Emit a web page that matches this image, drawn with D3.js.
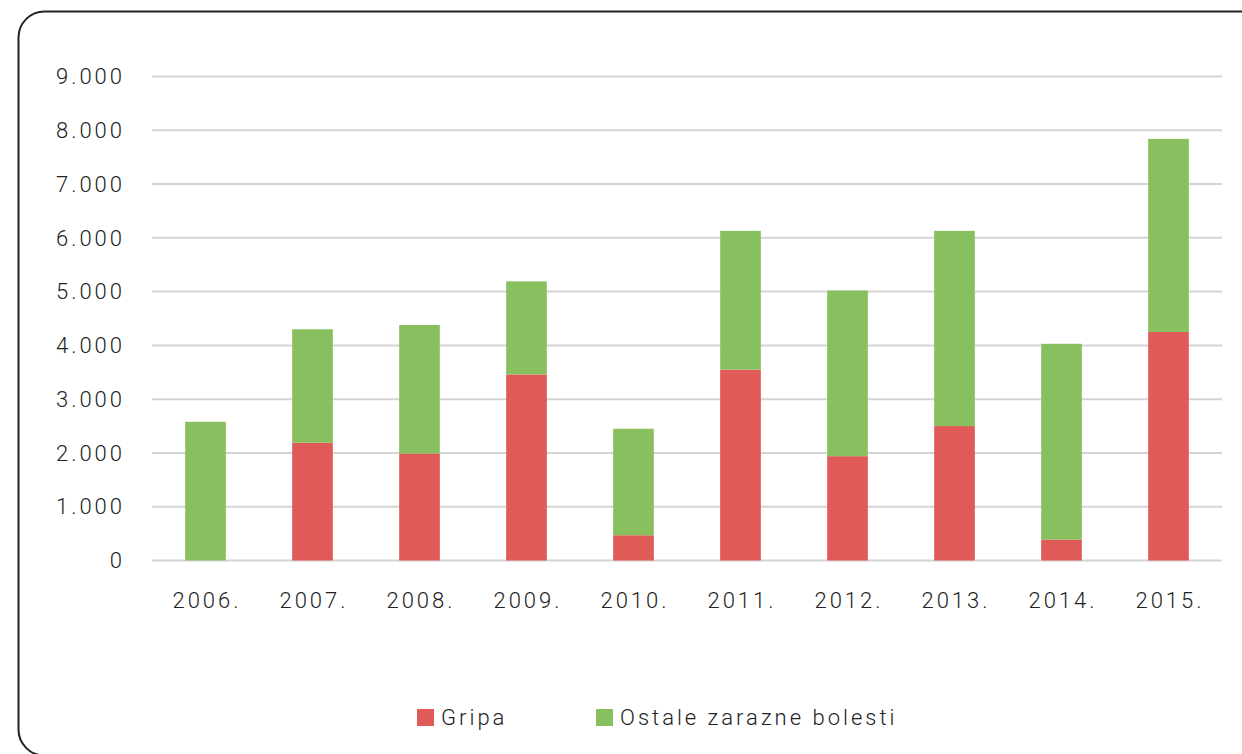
<!DOCTYPE html>
<html>
<head>
<meta charset="utf-8">
<script src="https://cdn.jsdelivr.net/npm/d3@7"></script>
<style>
  body { margin: 0; background: #fff; }
  svg text { font-family: Roboto, "DejaVu Sans", sans-serif; font-weight: 300; fill: #222; }
</style>
</head>
<body>
<div id="app"></div>
<script>
const WIDTH = 1242, HEIGHT = 754;

const years = ['2006.', '2007.', '2008.', '2009.', '2010.', '2011.', '2012.', '2013.', '2014.', '2015.'];
const gripa = [0, 2190, 1990, 3460, 470, 3550, 1940, 2500, 390, 4250];
const ostale = [2580, 2110, 2390, 1730, 1980, 2580, 3080, 3630, 3640, 3590];
const yTicks = [0, 1000, 2000, 3000, 4000, 5000, 6000, 7000, 8000, 9000];
const seriesNames = ['Gripa', 'Ostale zarazne bolesti'];
const colors = ['#e05a57', '#88c05f'];

const svg = d3.select('#app')
  .append('svg')
    .attr('width', WIDTH)
    .attr('height', HEIGHT);

// rounded frame round the whole chart
svg.append('rect')
  .attr('x', 18.5).attr('y', 11.5)
  .attr('width', 1260).attr('height', 744)
  .attr('rx', 26)
  .attr('fill', 'none')
  .attr('stroke', '#222')
  .attr('stroke-width', 2);

const x = d3.scaleBand()
  .domain(years)
  .range([152, 1222])
  .paddingInner(0.62)
  .paddingOuter(0.31);

const y = d3.scaleLinear()
  .domain([0, 9000])
  .range([560.5, 76.5]);

const fmt = v => v === 0 ? '0' : d3.format(',')(v).replace(/,/g, '.');

// gridlines
svg.append('g')
  .selectAll('line')
  .data(yTicks)
  .enter()
    .append('line')
    .attr('x1', 152).attr('x2', 1222)
    .attr('y1', d => y(d)).attr('y2', d => y(d))
    .attr('stroke', '#d4d4d4')
    .attr('stroke-width', 2);

// y labels
svg.append('g')
  .selectAll('text')
  .data(yTicks)
  .enter()
    .append('text')
    .attr('x', 125)
    .attr('y', d => y(d))
    .attr('dy', '0.35em')
    .attr('text-anchor', 'end')
    .style('font-size', '22px')
    .style('letter-spacing', '3px')
    .text(fmt);

// stacked bars
const rows = years.map((yr, i) => ({ year: yr, Gripa: gripa[i], Ostale: ostale[i] }));
const stack = d3.stack().keys(['Gripa', 'Ostale'])(rows);

svg.append('g')
  .selectAll('g')
  .data(stack)
  .enter()
    .append('g')
    .attr('fill', (d, i) => colors[i])
    .selectAll('rect')
    .data(d => d)
    .enter()
      .append('rect')
      .attr('x', d => x(d.data.year))
      .attr('width', x.bandwidth())
      .attr('y', d => y(d[1]))
      .attr('height', d => y(d[0]) - y(d[1]));

// x labels
svg.append('g')
  .selectAll('text')
  .data(years)
  .enter()
    .append('text')
    .attr('x', d => x(d) + x.bandwidth() / 2 + 1.5)
    .attr('y', 600)
    .attr('dy', '0.35em')
    .attr('text-anchor', 'middle')
    .style('font-size', '22px')
    .style('letter-spacing', '3px')
    .text(d => d);

// legend
const legendX = [417, 596];
const legend = svg.append('g')
  .selectAll('g')
  .data(seriesNames)
  .enter()
    .append('g')
    .attr('transform', (d, i) => `translate(${legendX[i]},717)`);

legend.append('rect')
  .attr('x', 0).attr('y', -8)
  .attr('width', 17).attr('height', 17)
  .attr('fill', (d, i) => colors[i]);

legend.append('text')
  .attr('x', 24)
  .attr('dy', '0.35em')
  .style('font-size', '22px')
  .style('letter-spacing', '3px')
  .text(d => d);
</script>
</body>
</html>
